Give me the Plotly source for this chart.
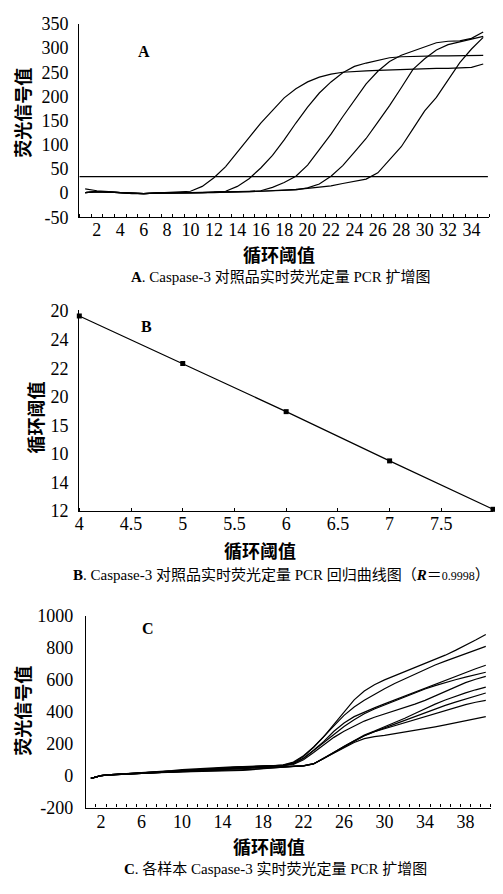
import plotly.graph_objects as go

# Page is 503x894; the browser's default 8px body margin surrounds the figure.
PAGE_MARGIN = 8
FW, FH = 503 - 2 * PAGE_MARGIN, 894 - 2 * PAGE_MARGIN

# ---------------- Panel A data ----------------
cycles_a = list(range(1, 36))
a_curve1 = [9, 5, 3, 1, -1, -1, 0, 1, 2, 4, 14, 32, 55, 86, 115, 145, 172, 197, 216, 230,
            240, 246, 250, 252, 253, 254, 255, 256, 257, 257, 258, 258, 259, 260, 267]
a_curve2 = [1, 3, 2, 1, -1, -1, 0, 1, 1, 1, 1, 2, 4, 14, 30, 52, 78, 110, 145, 178,
            207, 230, 249, 262, 269, 275, 280, 282, 283, 284, 284, 284, 284, 285, 285]
a_curve3 = [1, 3, 2, 1, -1, -1, 0, 0, 1, 1, 1, 2, 2, 3, 4, 5, 12, 22, 35, 58,
            90, 122, 158, 193, 226, 252, 272, 285, 294, 303, 311, 314, 315, 320, 333]
a_curve4 = [1, 3, 2, 1, -1, -1, 0, 0, 1, 1, 1, 1, 2, 2, 3, 4, 5, 6, 7, 11,
            19, 35, 57, 85, 113, 147, 181, 218, 256, 278, 296, 307, 313, 318, 324]
a_curve5 = [1, 3, 2, 1, -1, -1, 0, 0, 1, 1, 1, 2, 2, 3, 3, 4, 5, 6, 8, 10,
            12, 15, 20, 25, 29, 42, 68, 96, 133, 170, 198, 235, 270, 298, 322]
a_threshold = 34
a_xticks = list(range(2, 35, 2))
a_yticks = [-50, 0, 50, 100, 150, 200, 250, 300, 350]

# ---------------- Panel B data ----------------
b_logc = [4, 5, 6, 7, 8]
b_ct = [25.66, 22.33, 18.96, 15.51, 12.12]
b_xticks = [4, 4.5, 5, 5.5, 6, 6.5, 7, 7.5]
b_yticks = [12, 14, 16, 18, 20, 22, 24, 26]
b_yticktext = ["12", "14", "10", "15", "20", "22", "24", "20"]

# ---------------- Panel C data ----------------
cycles_c = list(range(1, 41))
c_curves = [
    [-17, 0, 6, 10, 14, 17, 21, 25, 30, 35, 38, 42, 46, 50, 53, 55, 57, 59, 62, 68,
     85, 125, 180, 245, 320, 400, 475, 530, 570, 600, 625, 650, 675, 700, 727, 755, 785, 815, 850, 885],
    [-17, 0, 6, 10, 13, 16, 20, 24, 29, 33, 37, 41, 45, 49, 52, 54, 56, 58, 61, 66,
     80, 120, 178, 242, 312, 378, 430, 472, 510, 545, 578, 608, 638, 667, 693, 718, 742, 766, 789, 810],
    [-17, 0, 6, 10, 13, 17, 21, 26, 32, 38, 42, 46, 50, 53, 55, 57, 58, 59, 61, 65,
     75, 110, 160, 215, 278, 330, 370, 400, 425, 450, 475, 500, 525, 550, 575, 600, 624, 647, 670, 692],
    [-17, 0, 5, 9, 12, 16, 20, 24, 28, 31, 34, 37, 40, 43, 46, 49, 52, 55, 58, 63,
     75, 108, 158, 210, 262, 308, 350, 388, 418, 444, 470, 495, 519, 543, 564, 584, 601, 617, 633, 648],
    [-17, 0, 6, 10, 13, 16, 19, 23, 27, 31, 35, 40, 44, 48, 51, 53, 55, 57, 60, 64,
     70, 100, 145, 195, 240, 278, 312, 342, 366, 386, 406, 427, 448, 472, 500, 528, 557, 583, 604, 622],
    [-17, 0, 5, 9, 12, 15, 18, 21, 24, 27, 30, 33, 36, 39, 41, 44, 47, 50, 53, 56,
     59, 62, 75, 110, 150, 185, 220, 255, 280, 305, 332, 360, 390, 420, 448, 474, 498, 519, 538, 555],
    [-17, 0, 5, 9, 12, 15, 18, 20, 23, 26, 28, 30, 32, 33, 34, 36, 40, 45, 50, 55,
     58, 61, 73, 108, 146, 182, 216, 250, 276, 300, 322, 346, 370, 395, 418, 440, 461, 481, 500, 518],
    [-17, 0, 6, 10, 13, 15, 17, 20, 22, 24, 25, 26, 27, 28, 30, 33, 38, 44, 50, 55,
     58, 62, 74, 108, 148, 184, 218, 250, 275, 294, 312, 331, 350, 370, 390, 410, 428, 445, 460, 472],
    [-17, 0, 5, 9, 12, 15, 18, 21, 24, 27, 30, 33, 36, 39, 42, 45, 48, 51, 54, 57,
     60, 63, 75, 108, 145, 178, 208, 232, 245, 253, 263, 273, 284, 295, 306, 318, 331, 344, 357, 370],
]
c_xticks = list(range(2, 39, 4))
c_yticks = [-200, 0, 200, 400, 600, 800, 1000]

# ---------------- helpers (page pixel -> paper fraction) ----------------
def px_x(p):
    return (p - PAGE_MARGIN) / FW

def px_y(p):
    return 1 - (p - PAGE_MARGIN) / FH

NUM_FONT = dict(family="Liberation Serif", size=18, color="black")
CJK_FONT = dict(family="Noto Sans CJK SC", size=18, color="black", weight="bold")
CAP_FONT = dict(family="Liberation Serif, Noto Sans CJK SC", size=15, color="black")
LETTER_FONT = dict(family="Liberation Serif", size=16, color="black", weight="bold")
LINE = dict(color="black", width=1.2)

fig = go.Figure()

for ys in [a_curve1, a_curve2, a_curve3, a_curve4, a_curve5]:
    fig.add_trace(go.Scatter(x=cycles_a, y=ys, mode="lines", line=LINE,
                             xaxis="x", yaxis="y", hoverinfo="skip"))
fig.add_trace(go.Scatter(x=[0.5, 35.4], y=[a_threshold, a_threshold], mode="lines",
                         line=LINE, xaxis="x", yaxis="y", hoverinfo="skip"))

fig.add_trace(go.Scatter(x=b_logc, y=b_ct, mode="lines+markers", line=LINE,
                         marker=dict(symbol="square", size=5, color="black"),
                         cliponaxis=False,
                         xaxis="x2", yaxis="y2", hoverinfo="skip"))

for ys in c_curves:
    fig.add_trace(go.Scatter(x=cycles_c, y=ys, mode="lines", line=LINE,
                             xaxis="x3", yaxis="y3", hoverinfo="skip"))

axis_common = dict(showline=True, linecolor="black", linewidth=1.2, showgrid=False,
                   zeroline=False, tickfont=NUM_FONT, mirror=False)
MINOR = dict(tickmode="linear", ticks="inside", ticklen=3, tickcolor="black", tickwidth=1)

fig.update_layout(
    width=FW, height=FH, margin=dict(l=0, r=0, t=0, b=0),
    paper_bgcolor="white", plot_bgcolor="white", showlegend=False,
    xaxis=dict(domain=[px_x(75), px_x(489)], range=[0.5, 35.5], anchor="y",
               tickmode="array", tickvals=a_xticks, ticktext=[str(v) for v in a_xticks],
               ticks="", ticklabelstandoff=-4,
               minor=dict(tick0=0.5, dtick=1, **MINOR),
               **axis_common),
    yaxis=dict(domain=[px_y(212), px_y(14)], range=[-50, 350], anchor="x",
               tickmode="array", tickvals=a_yticks, ticktext=[str(v) for v in a_yticks],
               ticks="", ticklabelstandoff=6, **axis_common),
    xaxis2=dict(domain=[px_x(75), px_x(493)], range=[4, 8], anchor="y2",
                tickmode="array", tickvals=b_xticks, ticktext=[str(v) for v in b_xticks],
                ticks="", ticklabelstandoff=-4,
                minor=dict(tick0=4, dtick=0.5, **MINOR),
                **axis_common),
    yaxis2=dict(domain=[px_y(512.5), px_y(306.5)], range=[12, 26.1], anchor="x2",
                tickmode="array", tickvals=b_yticks, ticktext=b_yticktext,
                ticks="", ticklabelstandoff=6, **axis_common),
    xaxis3=dict(domain=[px_x(81.6), px_x(490.8)], range=[0.5, 40.5], anchor="y3",
                tickmode="array", tickvals=c_xticks, ticktext=[str(v) for v in c_xticks],
                ticks="", ticklabelstandoff=-2,
                minor=dict(tick0=0.5, dtick=1, **MINOR),
                **axis_common),
    yaxis3=dict(domain=[px_y(816), px_y(620)], range=[-200, 1000], anchor="x3",
                tickmode="array", tickvals=c_yticks, ticktext=[str(v) for v in c_yticks],
                ticks="", ticklabelstandoff=8, **axis_common),
)

def ann(text, x, y, font, xanchor="center", angle=0):
    fig.add_annotation(text=text, x=px_x(x), y=px_y(y), xref="paper", yref="paper",
                       showarrow=False, font=font, xanchor=xanchor, yanchor="middle",
                       textangle=angle)

# Panel A texts
ann("A", 140, 42, LETTER_FONT)
ann("循环阈值", 277, 249, CJK_FONT)
ann("荧光信号值", 17, 105, CJK_FONT, angle=-90)
ann("<b>A</b>. Caspase-3 对照品实时荧光定量 PCR 扩增图", 125, 273, CAP_FONT, xanchor="left")

# Panel B texts
ann("B", 143, 324, LETTER_FONT)
ann("循环阈值", 258, 552, CJK_FONT)
ann("循环阈值", 30, 417, CJK_FONT, angle=-90)
ann("<b>B</b>. Caspase-3 对照品实时荧光定量 PCR 回归曲线图（<b><i>R</i></b>＝<span style='font-size:12px'>0.9998</span>）",
    67, 578, CAP_FONT, xanchor="left")

# Panel C texts
ann("C", 144, 633, LETTER_FONT)
ann("循环阈值", 267, 855, CJK_FONT)
ann("荧光信号值", 17, 717, CJK_FONT, angle=-90)
ann("<b>C</b>. 各样本 Caspase-3 实时荧光定量 PCR 扩增图", 118, 879, CAP_FONT, xanchor="left")

fig.write_html("out.html", config={"displayModeBar": False})
